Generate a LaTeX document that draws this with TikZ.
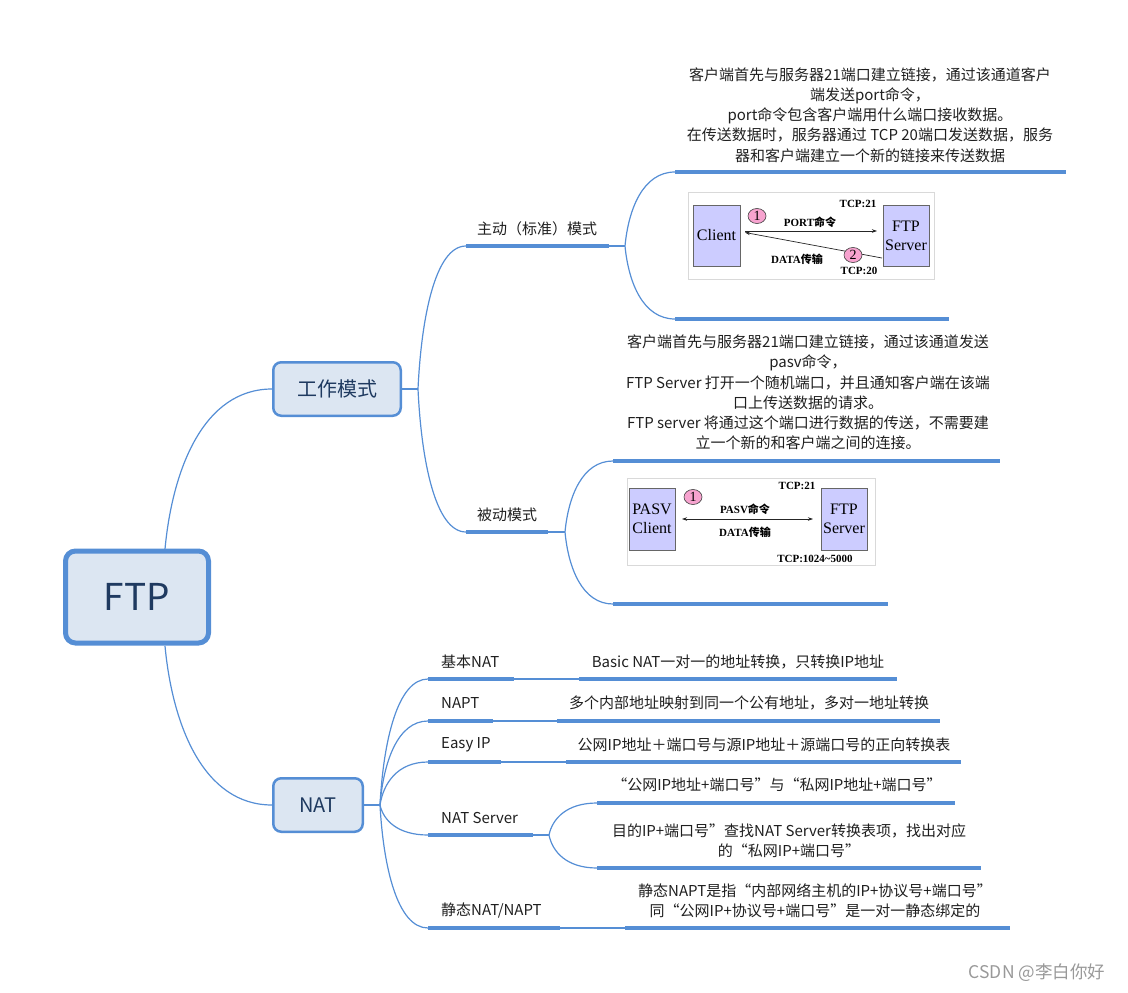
\documentclass[tikz,border=0pt]{standalone}
\usepackage{fontspec}
\setmainfont{Noto Sans CJK SC}
\newfontfamily\tnr{Liberation Serif}
\usetikzlibrary{arrows.meta,calc,shapes.geometric}
\definecolor{xblue}{HTML}{558ED5}
\definecolor{xfill}{HTML}{DCE6F2}
\definecolor{xtext}{HTML}{1F3A60}
\definecolor{pasvfill}{HTML}{CCCCFF}
\definecolor{pinkfill}{HTML}{F7A3CF}
\begin{document}
\begin{tikzpicture}[x=1pt,y=-1pt,
 rootbox/.style={draw=xblue, fill=xfill, line width=5pt, rounded corners=10pt, minimum width=143pt, minimum height=92pt, text=xtext, font=\fontsize{37}{40}\selectfont, inner sep=0},
 topicbox/.style={draw=xblue, fill=xfill, line width=2.5pt, rounded corners=8pt, minimum height=53.5pt, text=xtext, font=\fontsize{20}{24}\selectfont, inner sep=0},
 thinl/.style={draw=xblue, line width=1.2pt},
 thickl/.style={draw=xblue, line width=3.6pt},
 branch/.style={thinl, to path={let \p1=(\tikztostart),\p2=(\tikztotarget) in .. controls ({\x1+0.07*(\x2-\x1)},{\y1+0.5*(\y2-\y1)}) and ({\x1+0.36*(\x2-\x1)},{\y2}) .. (\tikztotarget)}},
 lbl/.style={inner sep=0, anchor=west, text=black!88, font=\fontsize{15}{20}\selectfont},
 clbl/.style={inner sep=0, text=black!88, font=\fontsize{15}{20}\selectfont},
 para/.style={inner sep=0, align=center, text=black!88, font=\fontsize{15}{20.2}\selectfont},
 frame/.style={draw=black!15, fill=white, inner sep=0},
 hostbox/.style={draw=black!60, fill=pasvfill, line width=0.6pt, inner sep=0, align=center, font=\tnr\fontsize{16}{19}\selectfont},
 numc/.style={ellipse, draw=black!75, line width=0.6pt, fill=pinkfill, minimum width=18pt, minimum height=15pt, inner sep=0, font=\tnr\fontsize{14}{14}\selectfont},
 imgtxt/.style={inner sep=0, font=\bfseries\fontsize{11}{12}\selectfont},
 arr/.style={line width=0.7pt, draw=black!85, -{Stealth[length=5pt,width=3.5pt]}},
 darr/.style={line width=0.7pt, draw=black!85, {Stealth[length=5pt,width=3.5pt]}-{Stealth[length=5pt,width=3.5pt]}}
]
\useasboundingbox (0,0) rectangle (1128,993);

% ---------- main topics ----------
\node[rootbox] (ftp) at (137,597) {FTP};
\node[topicbox, minimum width=127.5pt] (work) at (337,389) {工作模式};
\node[topicbox, minimum width=89.5pt] (nat) at (318,805) {NAT};

\coordinate (ftpN) at (165,549);
\coordinate (ftpS) at (165,646);
\draw[branch] (ftpN) to (work.west);
\draw[branch] (ftpS) to (nat.west);

% ---------- work modes ----------
\coordinate (w1) at (418,389);
\draw[thinl] (work.east) -- (w1);
\coordinate (a0) at (466,246);
\coordinate (p0) at (466,532);
\draw[branch] (w1) to (a0);
\draw[branch] (w1) to (p0);

% active
\coordinate (a1) at (609,246);
\coordinate (a2) at (625,246);
\coordinate (a3) at (675,172);
\coordinate (a4) at (1066,172);
\coordinate (a5) at (675,319);
\coordinate (a6) at (949,319);
\draw[thinl] (a1) -- (a2);
\draw[branch] (a2) to (a3);
\draw[branch] (a2) to (a5);
\draw[thickl] (a0) -- (a1);
\draw[thickl] (a3) -- (a4);
\draw[thickl] (a5) -- (a6);
\node[clbl] (actl) at (537,229) {主动（标准）模式};
\node[para] (actt) at (870,115) {客户端首先与服务器21端口建立链接，通过该通道客户\\端发送port命令，\\port命令包含客户端用什么端口接收数据。\\在传送数据时，服务器通过 TCP 20端口发送数据，服务\\器和客户端建立一个新的链接来传送数据};

% active image
\node[frame, minimum width=246pt, minimum height=87pt] (img1) at (811,235.5) {};
\node[hostbox, minimum width=47pt, minimum height=61pt] (cl1) at (716.5,235.5) {Client};
\node[hostbox, minimum width=46pt, minimum height=61pt] (sv1) at (906,235.5) {FTP\\Server};
\coordinate (r1s) at (745,231);
\coordinate (r1e) at (877,231);
\coordinate (r2s) at (882,258);
\coordinate (r2e) at (745,232.5);
\draw[arr] (r1s) -- (r1e);
\draw[arr] (r2s) -- (r2e);
\node[numc] (n1) at (757,216) {1};
\node[numc] (n2) at (853,255) {2};
\node[imgtxt] (portc) at (810,222) {{\tnr PORT}命令};
\node[imgtxt] (tcp21a) at (858,204) {\tnr TCP:21};
\node[imgtxt] (data1) at (797,259) {{\tnr DATA}传输};
\node[imgtxt] (tcp20) at (859,271) {\tnr TCP:20};

% passive
\coordinate (p1) at (548,532);
\coordinate (p2) at (565,532);
\coordinate (p3) at (613,461);
\coordinate (p4) at (1000,461);
\coordinate (p5) at (613,604);
\coordinate (p6) at (888,604);
\draw[thinl] (p1) -- (p2);
\draw[branch] (p2) to (p3);
\draw[branch] (p2) to (p5);
\draw[thickl] (p0) -- (p1);
\draw[thickl] (p3) -- (p4);
\draw[thickl] (p5) -- (p6);
\node[clbl] (pasl) at (507,515) {被动模式};
\node[para] (past) at (808,392.5) {客户端首先与服务器21端口建立链接，通过该通道发送\\pasv命令，\\FTP Server 打开一个随机端口，并且通知客户端在该端\\口上传送数据的请求。\\FTP server 将通过这个端口进行数据的传送，不需要建\\立一个新的和客户端之间的连接。};

% passive image
\node[frame, minimum width=248pt, minimum height=87pt] (img2) at (751,521.5) {};
\node[hostbox, minimum width=46pt, minimum height=62pt] (cl2) at (652,519) {PASV\\Client};
\node[hostbox, minimum width=46pt, minimum height=62pt] (sv2) at (844,519) {FTP\\Server};
\coordinate (d1) at (682,519);
\coordinate (d2) at (813,519);
\draw[darr] (d1) -- (d2);
\node[numc] (n3) at (693,497) {1};
\node[imgtxt] (tcp21b) at (797,486) {\tnr TCP:21};
\node[imgtxt] (pasvc) at (745,509) {{\tnr PASV}命令};
\node[imgtxt] (data2) at (745,532) {{\tnr DATA}传输};
\node[imgtxt] (tcphi) at (815,559) {\tnr TCP:1024\textasciitilde 5000};

% ---------- NAT ----------
\coordinate (n1t) at (380,805);
\draw[thinl] (nat.east) -- (n1t);
\coordinate (b0) at (428,679);
\coordinate (c0) at (428,721);
\coordinate (e0) at (428,762);
\coordinate (s0) at (428,835);
\coordinate (t0) at (428,928);
\foreach \q in {b0,c0,e0,s0,t0} \draw[branch] (n1t) to (\q);

% basic NAT
\coordinate (b1) at (514,679);
\coordinate (b2) at (579,679);
\coordinate (b3) at (897,679);
\draw[thinl] (b1) -- (b2);
\draw[thickl] (b0) -- (b1);
\draw[thickl] (b2) -- (b3);
\node[lbl] (bl) at (441,662) {基本NAT};
\node[clbl] (bt) at (738,662) {Basic NAT一对一的地址转换，只转换IP地址};

% NAPT
\coordinate (c1) at (493,721);
\coordinate (c2) at (557,721);
\coordinate (c3) at (940,721);
\draw[thinl] (c1) -- (c2);
\draw[thickl] (c0) -- (c1);
\draw[thickl] (c2) -- (c3);
\node[lbl] (cl) at (441,703) {NAPT};
\node[clbl] (ct) at (749,703) {多个内部地址映射到同一个公有地址，多对一地址转换};

% Easy IP
\coordinate (e1) at (501,762);
\coordinate (e2) at (566,762);
\coordinate (e3) at (961,762);
\draw[thinl] (e1) -- (e2);
\draw[thickl] (e0) -- (e1);
\draw[thickl] (e2) -- (e3);
\node[lbl] (el) at (441,745) {Easy IP};
\node[clbl] (et) at (764,745) {公网IP地址＋端口号与源IP地址＋源端口号的正向转换表};

% NAT Server
\coordinate (s1) at (533,835);
\coordinate (s2) at (549,835);
\coordinate (s3) at (597,803);
\coordinate (s4) at (955,803);
\coordinate (s5) at (597,868);
\coordinate (s6) at (981,868);
\draw[thinl] (s1) -- (s2);
\draw[branch] (s2) to (s3);
\draw[branch] (s2) to (s5);
\draw[thickl] (s0) -- (s1);
\draw[thickl] (s3) -- (s4);
\draw[thickl] (s5) -- (s6);
\node[lbl] (sl) at (441,818) {NAT Server};
\node[clbl] (st1) at (777,785) {“公网IP地址+端口号”与“私网IP地址+端口号”};
\node[para] (st2) at (789,841) {目的IP+端口号”查找NAT Server转换表项，找出对应\\的“私网IP+端口号”};

% static NAT
\coordinate (t1) at (560,928);
\coordinate (t2) at (625,928);
\coordinate (t3) at (1010,928);
\draw[thinl] (t1) -- (t2);
\draw[thickl] (t0) -- (t1);
\draw[thickl] (t2) -- (t3);
\node[lbl] (tl) at (441,911) {静态NAT/NAPT};
\node[para] (tt) at (815,901) {静态NAPT是指“内部网络主机的IP+协议号+端口号”\\同“公网IP+协议号+端口号”是一对一静态绑定的};

% watermark
\node[inner sep=0, text=black!40, font=\fontsize{17.5}{20}\selectfont] (wm) at (1037,973) {CSDN @李白你好};
\end{tikzpicture}
\end{document}
